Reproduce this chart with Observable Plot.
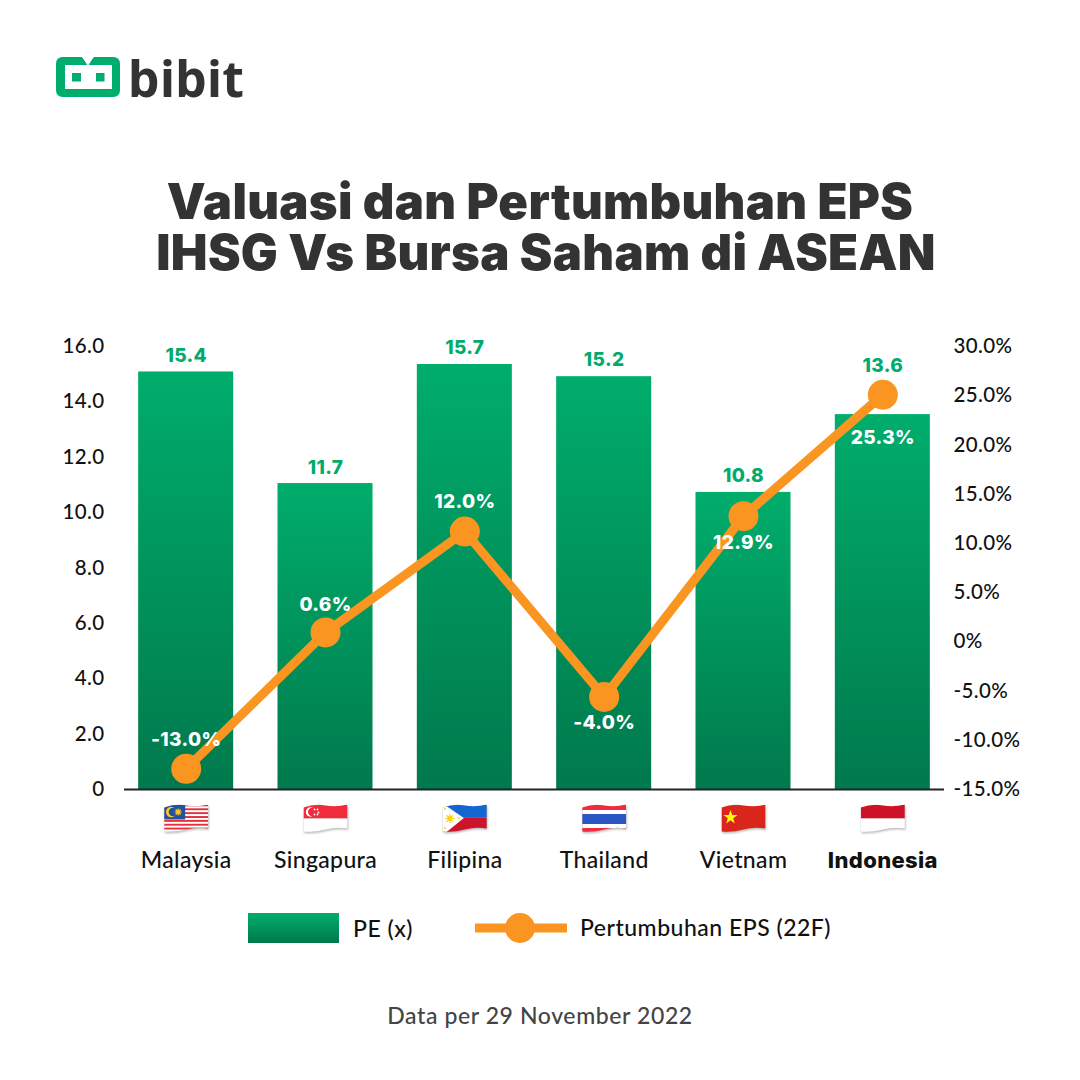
<!DOCTYPE html>
<html><head><meta charset="utf-8">
<script src="https://cdn.jsdelivr.net/npm/d3@7"></script>
<script src="https://cdn.jsdelivr.net/npm/@observablehq/plot@0.6"></script>
<style>
html,body{margin:0;padding:0;background:#fff}
#page{position:relative;width:1080px;height:1080px;overflow:hidden;background:#fff;font-family:Lato,sans-serif;color:#111}
#logo{position:absolute;left:56px;top:57px}
#brand{position:absolute;left:128px;top:48px;font:700 50px/60px "Noto Sans",sans-serif;color:#333;letter-spacing:.3px}
.tl{position:absolute;width:1080px;margin:0;text-align:center;font:900 49px/48px Inter,sans-serif;color:#333;letter-spacing:.3px}
#chart{position:absolute;left:0;top:330px}
.leg{position:absolute;font:500 23px/26px Lato,sans-serif;color:#111;letter-spacing:.5px}
#caption{position:absolute;left:0;width:1080px;top:1001px;text-align:center;font:500 23px/28px Lato,sans-serif;color:#444;letter-spacing:.6px}
#chart text{letter-spacing:.35px}
</style></head><body>
<div id="page">
<svg id="logo" width="64" height="40" viewBox="0 0 64 40">
<path d="M7 0H26L32 6L38 0H57Q64 0 64 7V33Q64 40 57 40H7Q0 40 0 33V7Q0 0 7 0Z" fill="#00ad6c"/>
<path d="M9 8H56V32H9Z" fill="#fff"/><path d="M26 0L32 9L37.5 0Z" fill="#fff"/><rect x="16" y="16" width="9" height="8.5" fill="#00ad6c"/><rect x="40" y="16" width="8.5" height="8.5" fill="#00ad6c"/>
</svg>
<div id="brand">bibit</div>
<div class="tl" style="top:178px;left:0">Valuasi dan Pertumbuhan EPS</div>
<div class="tl" style="top:229px;left:6px">IHSG Vs Bursa Saham di ASEAN</div>
<div id="chart"></div>
<svg style="position:absolute;left:248px;top:913px" width="91" height="30"><defs><linearGradient id="lg" x1="0" y1="0" x2="0" y2="1"><stop offset="0" stop-color="#00ad6c"/><stop offset="1" stop-color="#00794c"/></linearGradient></defs><rect width="91" height="30" fill="url(#lg)"/></svg>
<div class="leg" style="left:353px;top:915px">PE (x)</div>
<svg style="position:absolute;left:475px;top:913px" width="92" height="30"><rect x="0" y="10.5" width="92" height="9" fill="#f99520"/><circle cx="45" cy="15" r="15" fill="#f99520"/></svg>
<div class="leg" style="left:580px;top:914px">Pertumbuhan EPS (22F)</div>
<div id="caption">Data per 29 November 2022</div>
</div>
<script>
const countries = ["Malaysia","Singapura","Filipina","Thailand","Vietnam","Indonesia"];
const peBars = [15.08,11.05,15.35,14.91,10.73,13.54];
const peLabels = ["15.4","11.7","15.7","15.2","10.8","13.6"];
const peLabelDy = [-16,-16,-17,-17,-17,-49];
const epsPoints = [-12.9,0.95,11.2,-5.6,12.76,25.1];
const epsLabels = ["-13.0%","0.6%","12.0%","-4.0%","12.9%","25.3%"];
const epsLabelDy = [-29,-28,-30,26,27,43];
const leftTicks = [0,2,4,6,8,10,12,14,16];
const rightTicks = [-15,-10,-5,0,5,10,15,20,25,30];
const rightTickLabels = ["-15.0%","-10.0%","-5.0%","0%","5.0%","10.0%","15.0%","20.0%","25.0%","30.0%"];

const shape = "M3 6Q14 2 25 4T47 3V27Q36 25 25 28T3 30Z";
const wave = body => "data:image/svg+xml," + encodeURIComponent(`<svg xmlns="http://www.w3.org/2000/svg" width="50" height="36" viewBox="0 0 50 36"><defs><clipPath id="c"><path d="${shape}"/></clipPath><filter id="b" x="-20%" y="-20%" width="140%" height="140%"><feGaussianBlur stdDeviation="1.2"/></filter></defs><path d="${shape}" fill="#000" opacity=".28" transform="translate(.6 1.5)" filter="url(#b)"/><g clip-path="url(#c)">${body}</g></svg>`);
const stripes = (n,a,b)=>Array.from({length:n},(_,i)=>`<rect x="0" y="${3+i*27/n}" width="50" height="${27/n+.2}" fill="${i%2?b:a}"/>`).join("");
const starBurst = (cx,cy,r,c)=>`<circle cx="${cx}" cy="${cy}" r="${r*.55}" fill="${c}"/>`+d3.range(8).map(i=>{const a=i*Math.PI/4;return `<line x1="${cx}" y1="${cy}" x2="${cx+r*Math.cos(a)}" y2="${cy+r*Math.sin(a)}" stroke="${c}" stroke-width="1.2"/>`}).join("");
const flags = [
 wave(stripes(14,"#e8303a","#fff")+`<rect x="0" y="0" width="24" height="18" fill="#23509f"/><circle cx="10" cy="10.5" r="5.2" fill="#fbcb1a"/><circle cx="11.8" cy="10.5" r="4.3" fill="#23509f"/>`+starBurst(17,10.5,3.6,"#fbcb1a")),
 wave(`<rect width="50" height="17" fill="#ef2b3d"/><rect y="17" width="50" height="19" fill="#fff"/><circle cx="10" cy="10.5" r="4.7" fill="#fff"/><circle cx="11.7" cy="10.5" r="4.2" fill="#ef2b3d"/><circle cx="14" cy="8" r=".9" fill="#fff"/><circle cx="17" cy="8" r=".9" fill="#fff"/><circle cx="18" cy="11" r=".9" fill="#fff"/><circle cx="14" cy="13" r=".9" fill="#fff"/><circle cx="17" cy="13" r=".9" fill="#fff"/>`),
 wave(`<rect width="50" height="16" fill="#1565d0"/><rect y="16" width="50" height="20" fill="#cc142b"/><path d="M0 0L24 16.5L0 36Z" fill="#fff"/>`+starBurst(10,17,4.6,"#fcd116")+`<circle cx="5" cy="7.5" r="1" fill="#fcd116"/><circle cx="5" cy="26.5" r="1" fill="#fcd116"/><circle cx="19" cy="16.5" r="1" fill="#fcd116"/>`),
 wave(`<rect width="50" height="36" fill="#ef2b3d"/><rect y="8.5" width="50" height="18" fill="#fff"/><rect y="12.5" width="50" height="10" fill="#2a56c4"/>`),
 wave(`<rect width="50" height="36" fill="#da251d"/><path d="M12 8.5L13.7 13.6H19L14.7 16.8L16.3 22L12 18.8L7.7 22L9.3 16.8L5 13.6H10.3Z" fill="#ff0"/>`),
 wave(`<rect width="50" height="17" fill="#ce1126"/><rect y="17" width="50" height="19" fill="#fff"/>`)
];

const toLeft = p => (p+15)/45*16;
const rows = countries.map((c,i)=>({c,pe:peBars[i],peL:peLabels[i],peDy:peLabelDy[i],eps:toLeft(epsPoints[i]),epsL:epsLabels[i],dy:epsLabelDy[i],flag:flags[i]}));
const gradient = () => d3.create("svg:defs").html(`<linearGradient id="barGrad" x1="0" y1="0" x2="0" y2="1"><stop offset="0" stop-color="#00ad6c"/><stop offset="1" stop-color="#00794c"/></linearGradient>`).node();

const plot = Plot.plot({
  width:1080,height:560,marginLeft:124,marginRight:136,marginTop:16,marginBottom:101,
  style:{background:"transparent",overflow:"visible",fontFamily:"Lato, sans-serif"},
  x:{type:"band",domain:countries,paddingInner:.318,paddingOuter:.1016,round:false,label:null,axis:null},
  y:{domain:[0,16],label:null,axis:null},
  marks:[
    gradient,
    Plot.barY(rows,{x:"c",y:"pe",fill:"url(#barGrad)"}),
    Plot.ruleY([0],{stroke:"#222",strokeWidth:2}),
    Plot.axisY({ticks:leftTicks,tickSize:0,tickPadding:20,tickFormat:d=>d3.format(d===0?"d":".1f")(d),fontSize:20.5,color:"#111",label:null,fontWeight:500}),
    Plot.axisY({anchor:"right",ticks:rightTicks.map(toLeft),tickSize:0,tickPadding:9,tickFormat:(d,i)=>rightTickLabels[i],fontSize:20.5,color:"#111",label:null,fontWeight:500}),
    ...rows.map(r=>Plot.text([r],{x:"c",y:"pe",text:"peL",dy:r.peDy,fill:"#00ab6b",fontSize:19,fontWeight:800,fontFamily:"Inter"})),
    Plot.line(rows,{x:"c",y:"eps",stroke:"#f99520",strokeWidth:9,curve:"linear"}),
    Plot.dot(rows,{x:"c",y:"eps",r:15,fill:"#f99520"}),
    ...rows.map(r=>Plot.text([r],{x:"c",y:"eps",text:"epsL",dy:r.dy,fill:"#fff",fontSize:19,fontWeight:800,fontFamily:"Inter"})),
    Plot.image(rows,{x:"c",y:0,src:"flag",width:50,height:36,dy:30}),
    Plot.text(rows.filter(r=>r.c!=="Indonesia"),{x:"c",y:0,text:"c",dy:71,fontSize:23,fontWeight:500,fill:"#111"}),
    Plot.text(rows.filter(r=>r.c==="Indonesia"),{x:"c",y:0,text:"c",dy:71,fontSize:22,fontWeight:800,fontFamily:"Inter",fill:"#111"})
  ]
});
document.getElementById("chart").appendChild(plot);
</script></body></html>
